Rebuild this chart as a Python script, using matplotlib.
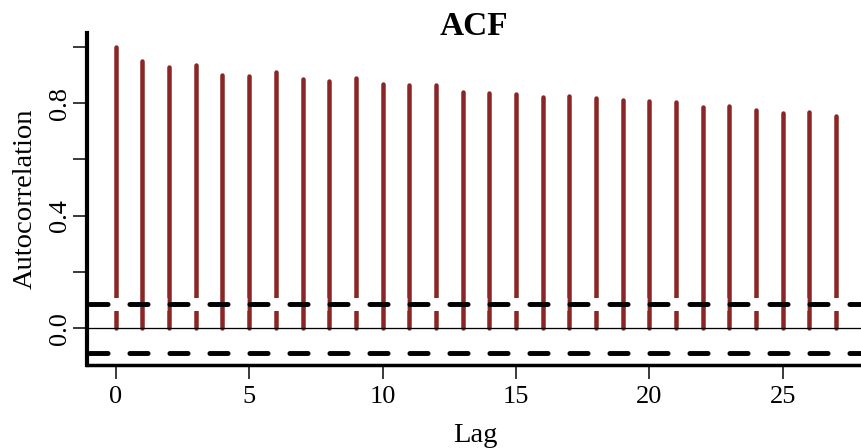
# ==========================================================
# ACF plot (R style)
# ==========================================================

import numpy as np
import matplotlib
matplotlib.use("Agg")
import matplotlib.pyplot as plt

# -------------------------
# Data
# -------------------------
lags = list(range(28))
acf_values = [1.000, 0.950, 0.928, 0.934, 0.900, 0.896, 0.912, 0.885,
              0.878, 0.889, 0.869, 0.866, 0.864, 0.841, 0.837, 0.831,
              0.820, 0.825, 0.818, 0.810, 0.809, 0.805, 0.785, 0.789,
              0.774, 0.764, 0.770, 0.756]
conf_upper = 0.088
conf_lower = -0.086
y_ticks = [0.0, 0.2, 0.4, 0.6, 0.8, 1.0]
y_tick_labels = ["0.0", "", "0.4", "", "0.8", ""]
x_ticks = [0, 5, 10, 15, 20, 25]

# -------------------------
# Style
# -------------------------
plt.rcParams["font.family"] = ["Liberation Serif", "DejaVu Serif"]
plt.rcParams["lines.scale_dashes"] = False

PX = 72 / 100  # points per pixel at dpi 100
bar_color = "#8B2626"

fig = plt.figure(figsize=(8.61, 4.48), dpi=100)
ax = fig.add_axes([87 / 861, 83 / 448, 774 / 861, 332 / 448])

# -------------------------
# Bars
# -------------------------
bars = ax.vlines(lags, 0, acf_values, color=bar_color, linewidth=4.5 * PX)
bars.set_capstyle("round")

# zero line
ax.axhline(0, color="black", linewidth=1.3 * PX)

# -------------------------
# Confidence bands (white gaps under the dashes' spaces)
# -------------------------
ax.axhline(conf_upper, color="white", linewidth=13 * PX, solid_capstyle="butt",
           linestyle=(17 * PX, (17 * PX, 23 * PX)), dash_capstyle="butt")
for level in (conf_upper, conf_lower):
    ax.axhline(level, color="black", linewidth=4.9 * PX,
               linestyle=(37.6 * PX, (18.2 * PX, 21.8 * PX)),
               dash_capstyle="round")

# -------------------------
# Axes
# -------------------------
ax.set_xlim(-1.076, 27.93)
ax.set_ylim(-0.130, 1.049)

for side in ("top", "right"):
    ax.spines[side].set_visible(False)
ax.spines["left"].set_linewidth(3.0)
ax.spines["bottom"].set_linewidth(2.5)

ax.set_xticks(x_ticks)
ax.set_xticklabels([str(t) for t in x_ticks])
ax.set_yticks(y_ticks)
ax.set_yticklabels(y_tick_labels, rotation=90, va="center")

ax.tick_params(axis="both", length=14 * PX, width=1.5 * PX, labelsize=19,
               color="black")
ax.tick_params(axis="x", pad=5)
ax.tick_params(axis="y", pad=1.5)

ax.set_xlabel("Lag", fontsize=20.5, va="baseline")
ax.xaxis.set_label_coords(0.502, -0.232)
ax.set_ylabel("Autocorrelation", fontsize=20.5, va="center")
ax.yaxis.set_label_coords(-0.080, 0.5)

ax.set_title("ACF", fontsize=24, fontweight="bold", y=0.994, pad=0,
             va="baseline")

fig.savefig("out.png", dpi=100)
